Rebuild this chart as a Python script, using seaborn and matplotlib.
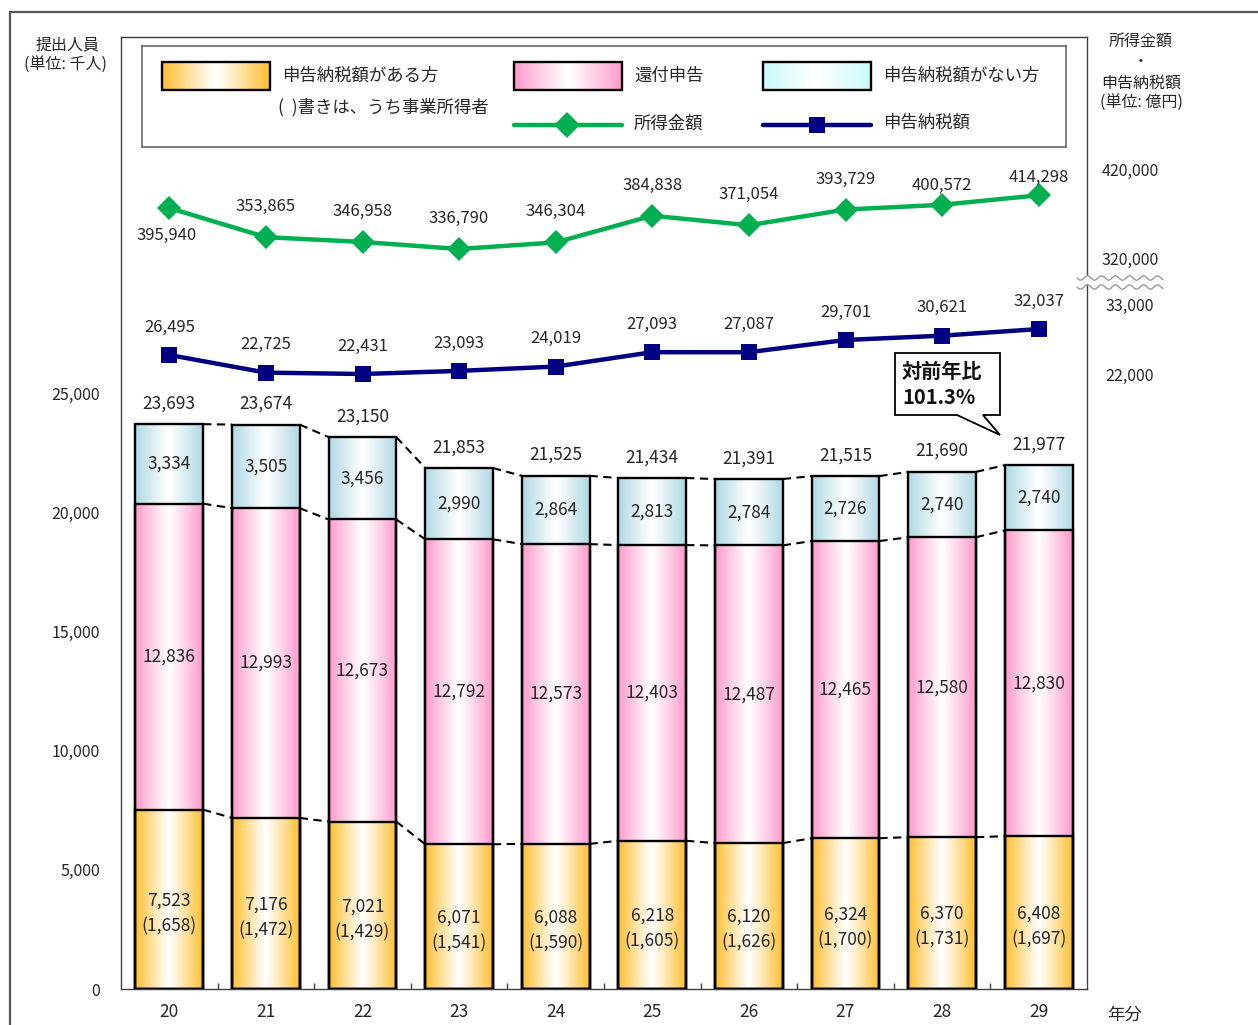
import numpy as np
import matplotlib
matplotlib.use("Agg")
import matplotlib.pyplot as plt
import matplotlib.colors as mcolors
from matplotlib.patches import Polygon, Rectangle
from matplotlib.lines import Line2D
import seaborn as sns

# ---- data (thousand people / 100 million yen) ----
years = ["20", "21", "22", "23", "24", "25", "26", "27", "28", "29"]
pay_people = [7523, 7176, 7021, 6071, 6088, 6218, 6120, 6324, 6370, 6408]
business_people = [1658, 1472, 1429, 1541, 1590, 1605, 1626, 1700, 1731, 1697]
refund_people = [12836, 12993, 12673, 12792, 12573, 12403, 12487, 12465, 12580, 12830]
nopay_people = [3334, 3505, 3456, 2990, 2864, 2813, 2784, 2726, 2740, 2740]
total_people = [23693, 23674, 23150, 21853, 21525, 21434, 21391, 21515, 21690, 21977]
income_amount = [395940, 353865, 346958, 336790, 346304, 384838, 371054, 393729, 400572, 414298]
tax_amount = [26495, 22725, 22431, 23093, 24019, 27093, 27087, 29701, 30621, 32037]
income_ticks = [320000, 420000]
tax_ticks = [22000, 33000]
people_ticks = [0, 5000, 10000, 15000, 20000, 25000]

ORANGE = "#FFBE2E"
PINK = "#FF99CC"
BLUE = "#AED8E4"
BLUE_KEY = "#C8FAFA"
GREEN = "#00B050"
NAVY = "#000080"
TXT = "#262626"

sns.set_theme(style="white")
plt.rcParams["font.family"] = ["Noto Sans CJK JP", "DejaVu Sans"]

W, H = 1258, 1025
fig = plt.figure(figsize=(W / 100, H / 100), dpi=100)


def fx(px):
    return px / W


def fy(py):
    return 1 - py / H


def gradient(color, n=256):
    rgb = np.array(mcolors.to_rgb(color))
    t = np.linspace(0, 1, n)
    w = np.clip(np.abs(t - 0.5) * 2, 0, 1) ** 1.1
    img = (1 - w)[:, None] * np.ones(3) + w[:, None] * rgb
    return img[None, :, :]


ax = fig.add_axes([fx(121), fy(989), fx(1087) - fx(121), fy(37) - fy(989)])

cum1 = np.array(pay_people)
cum2 = cum1 + np.array(refund_people)
tot = np.array(total_people)

# stacked bars: outlines drawn by seaborn, faces filled with gradients
for vals in (tot, cum2, cum1):
    sns.barplot(x=years, y=vals, order=years, ax=ax, width=0.7, color="white",
                edgecolor="black", linewidth=1.7, errorbar=None, zorder=3)
for p in ax.patches:
    p.set_facecolor("none")

bars = ax.patches[:len(years)]
for i, p in enumerate(bars):
    x0, x1 = p.get_x(), p.get_x() + p.get_width()
    for lo, hi, col in ((0, cum1[i], ORANGE), (cum1[i], cum2[i], PINK), (cum2[i], tot[i], BLUE)):
        ax.imshow(gradient(col), extent=[x0, x1, lo, hi], aspect="auto",
                  interpolation="bilinear", zorder=1)

# dashed connectors between neighbouring bars
for level in (cum1, cum2, tot):
    for i in range(len(years) - 1):
        xa = bars[i].get_x() + bars[i].get_width()
        xb = bars[i + 1].get_x()
        ax.plot([xa, xb], [level[i], level[i + 1]], color="black", lw=1.5,
                ls=(0, (4, 2.6)), zorder=2)

# segment labels
for i in range(len(years)):
    ax.annotate(f"{pay_people[i]:,}\n({business_people[i]:,})", xy=(i, cum1[i] / 2),
                xytext=(0, -10), textcoords="offset points", ha="center", va="center",
                fontsize=12.5, color=TXT, linespacing=1.55, zorder=5)
    ax.annotate(f"{refund_people[i]:,}", xy=(i, (cum1[i] + cum2[i]) / 2), ha="center",
                va="center", fontsize=12.5, color=TXT, zorder=5)
    ax.annotate(f"{nopay_people[i]:,}", xy=(i, (cum2[i] + tot[i]) / 2), ha="center",
                va="center", fontsize=12.5, color=TXT, zorder=5)
    ax.annotate(f"{total_people[i]:,}", xy=(i, tot[i]), xytext=(0, 15),
                textcoords="offset points", ha="center", va="center",
                fontsize=12.5, color=TXT, zorder=5)

ax.set_xlim(-0.5, len(years) - 0.5)
ax.set_ylim(0, 39933)
ax.set_yticks(people_ticks)
ax.set_yticklabels([f"{v:,}" for v in people_ticks])
ax.set_xticks(range(len(years)))
ax.set_xticklabels(years)
ax.set_xticks(np.arange(0.5, len(years) - 1, 1), minor=True)
ax.tick_params(axis="y", length=0, pad=15, labelsize=11.5, labelcolor=TXT)
ax.tick_params(axis="x", which="major", length=0, pad=10, labelsize=12.5, labelcolor=TXT)
ax.tick_params(axis="x", which="minor", direction="in", length=4, width=1,
               color="#404040", bottom=True)
ax.set_xlabel("")
ax.set_ylabel("")
for s in ax.spines.values():
    s.set_color("#404040")
    s.set_linewidth(1.0)
    s.set_visible(True)

# line series on their own scales
ax2 = ax.twinx()
ax2.set_ylim(-731000, 642700)
sns.lineplot(x=np.arange(len(years)), y=income_amount, ax=ax2, color=GREEN, lw=3.2,
             marker="D", markersize=12.5, markeredgewidth=0, legend=False)
ax3 = ax.twinx()
ax3.set_ylim(-109000, 94450)
sns.lineplot(x=np.arange(len(years)), y=tax_amount, ax=ax3, color=NAVY, lw=3.2,
             marker="s", markersize=12, markeredgewidth=0, legend=False)

income_offsets = [-20, 22, 22, 22, 22, 22, 22, 22, 14, 13]
for i, v in enumerate(income_amount):
    ax2.annotate(f"{v:,}", xy=(i, v), xytext=(-2 if i == 0 else 0, income_offsets[i]),
                 textcoords="offset points", ha="center", va="center",
                 fontsize=12, color=TXT)
for i, v in enumerate(tax_amount):
    ax3.annotate(f"{v:,}", xy=(i, v), xytext=(0, 20), textcoords="offset points",
                 ha="center", va="center", fontsize=12, color=TXT)

for a in (ax2, ax3):
    a.set_yticks([])
    a.set_ylabel("")
    a.grid(False)
    for s in a.spines.values():
        s.set_visible(False)

# right-hand scale labels
for a, ticks, top_shift in ((ax2, income_ticks, 14), (ax3, tax_ticks, 13)):
    for v in ticks:
        dy = top_shift if v == max(ticks) else 0
        a.annotate(f"{v:,}", xy=(1, v), xycoords=("axes fraction", "data"),
                   xytext=(31, dy), textcoords="offset points", ha="center",
                   va="center", fontsize=11.5, color=TXT, annotation_clip=False)

# axis break mark on the right scale
xs = np.linspace(1077, 1163, 200)
wave1 = 278 + 2.2 * np.sin((xs - 1077) / 14 * 2 * np.pi)
wave2 = 287 + 2.2 * np.sin((xs - 1077) / 14 * 2 * np.pi)
gap = np.vstack([np.column_stack([xs, wave1]), np.column_stack([xs[::-1], wave2[::-1]])])
fig.add_artist(Polygon(np.column_stack([fx(gap[:, 0]), fy(gap[:, 1])]),
                       closed=True, transform=fig.transFigure, fc="white", ec="none", zorder=4))
for wv in (wave1, wave2):
    fig.add_artist(Line2D(fx(xs), fy(wv), transform=fig.transFigure, color="#9a9a9a",
                          lw=1.0, zorder=5))

# callout
call = [(895, 353), (1000, 353), (1000, 415), (983, 415), (1000, 435), (957, 415), (895, 415)]
fig.add_artist(Polygon([(fx(x), fy(y)) for x, y in call], closed=True,
                       transform=fig.transFigure, fc="white", ec="black", lw=1.3, zorder=6))
fig.text(fx(902), fy(371), "対前年比", ha="left", va="center", fontsize=14.5,
         fontweight="bold", color="#111", zorder=7)
fig.text(fx(902), fy(397), "101.3%", ha="left", va="center", fontsize=14.5,
         fontweight="bold", color="#111", zorder=7)

# legend panel
lax = fig.add_axes([fx(142), fy(147), fx(1066) - fx(142), fy(46) - fy(147)])
lax.set_xlim(142, 1066)
lax.set_ylim(147, 46)
lax.set_xticks([])
lax.set_yticks([])
lax.set_facecolor("white")
for s in lax.spines.values():
    s.set_visible(True)
    s.set_color("#6a6a6a")
    s.set_linewidth(1.2)
for (x0, x1), col in (((162, 270), ORANGE), ((514, 622), PINK), ((763, 871), BLUE_KEY)):
    lax.imshow(gradient(col), extent=[x0, x1, 90, 62], aspect="auto",
               interpolation="bilinear", zorder=1)
    lax.add_patch(Rectangle((x0, 62), x1 - x0, 28, fc="none", ec="black", lw=1.7, zorder=2))
lax.set_xlim(142, 1066)
lax.set_ylim(147, 46)
lax.plot([514, 622], [125, 125], color=GREEN, lw=3.2, zorder=2)
lax.plot([567], [125], marker="D", ms=13.5, color=GREEN, mew=0, zorder=3)
lax.plot([763, 871], [125, 125], color=NAVY, lw=3.2, zorder=2)
lax.plot([817], [125], marker="s", ms=11, color=NAVY, mew=0, zorder=3)
for x, y, s in ((282, 76, "申告納税額がある方"), (634, 76, "還付申告"), (883, 76, "申告納税額がない方"),
                (278, 107, "(  )書きは、うち事業所得者"), (634, 124, "所得金額"), (883, 123, "申告納税額")):
    lax.text(x, y, s, ha="left", va="center", fontsize=12.5, color=TXT)

# axis titles
fig.text(fx(68), fy(45), "提出人員", ha="center", va="center", fontsize=11.5, color=TXT)
fig.text(fx(66), fy(65), "(単位: 千人)", ha="center", va="center", fontsize=11.5, color=TXT)
fig.text(fx(1141), fy(42), "所得金額", ha="center", va="center", fontsize=11.5, color=TXT)
fig.text(fx(1141), fy(62), "・", ha="center", va="center", fontsize=11.5, color=TXT)
fig.text(fx(1141), fy(83), "申告納税額", ha="center", va="center", fontsize=11.5, color=TXT)
fig.text(fx(1141), fy(103), "(単位: 億円)", ha="center", va="center", fontsize=11.5, color=TXT)
fig.text(fx(1125), fy(1015), "年分", ha="center", va="center", fontsize=12.5, color=TXT)

# outer frame
fig.add_artist(Line2D([fx(10), fx(10)], [fy(12), 0], transform=fig.transFigure,
                      color="#555555", lw=1.6))
fig.add_artist(Line2D([fx(10), 1], [fy(12), fy(12)], transform=fig.transFigure,
                      color="#555555", lw=1.6))

fig.savefig("out.png", dpi=100)
